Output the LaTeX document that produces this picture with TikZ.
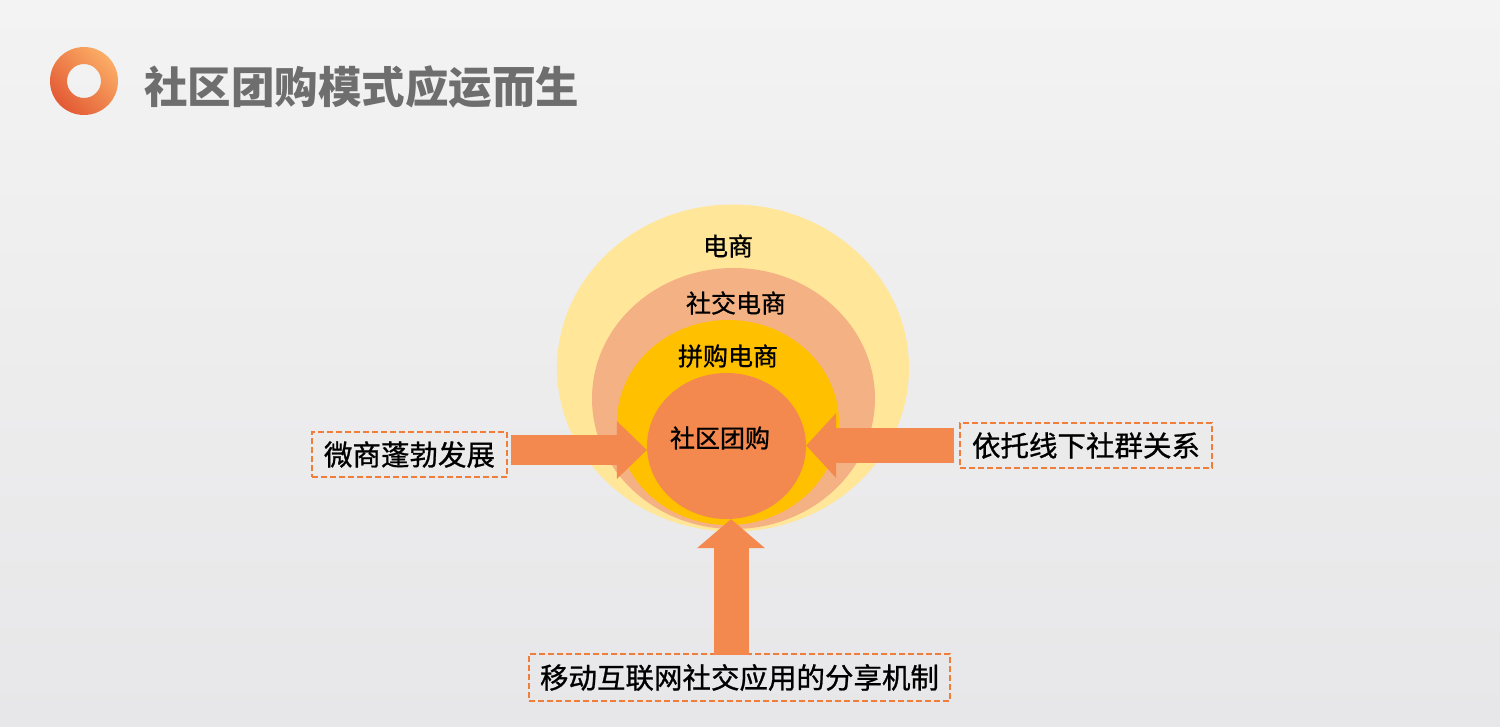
\documentclass[tikz,border=0pt]{standalone}
\usepackage{fontspec}
\setmainfont{Noto Sans CJK SC}
\newfontfamily\medcjk[FakeBold=0.9]{Noto Sans CJK SC}
\usetikzlibrary{arrows.meta,shapes.geometric}
\definecolor{bgtop}{HTML}{F3F3F3}
\definecolor{bgbot}{HTML}{E7E6E8}
\definecolor{ringa}{HTML}{FFE699}
\definecolor{ringb}{HTML}{F4B183}
\definecolor{ringc}{HTML}{FFC000}
\definecolor{ringd}{HTML}{F3894F}
\definecolor{arrowc}{HTML}{F3894F}
\definecolor{dashc}{HTML}{F07D3A}
\definecolor{titlec}{HTML}{6E6E6E}
\definecolor{logolt}{HTML}{FBAD66}
\definecolor{logodk}{HTML}{E35A34}
\begin{document}
\begin{tikzpicture}[x=1pt,y=-1pt,
  layer/.style={ellipse, inner sep=0pt, draw=none},
  lbl/.style={inner sep=0pt, font=\medcjk\fontsize{25}{30}\selectfont, text=black},
  dbox/.style={draw=dashc, line width=2pt, dash pattern=on 6pt off 3pt, inner sep=0pt, font=\medcjk\fontsize{28.5}{34}\selectfont, text=black},
  bigarrow/.style n args={3}{draw=arrowc, line width=#1, -{Triangle[width=#2,length=#3,line width=0pt]}}
]
\useasboundingbox (0,0) rectangle (1500,727);
\shade[top color=bgtop, bottom color=bgbot] (0,0) rectangle (1500,727);
% logo
\node[circle, minimum size=68pt, inner sep=0pt] (logo) at (84,81) {};
\shade[even odd rule, top color=logolt, bottom color=logodk, shading angle=-45] (logo.center) circle (34) (logo.center) circle (17);
% title
\node[anchor=west, inner sep=0pt, font=\fontsize{43.5}{50}\selectfont\bfseries, text=titlec] (title) at (144,87) {社区团购模式应运而生};
% nested ellipses
\node[layer, fill=ringa, minimum width=352pt, minimum height=327pt] (outer) at (733,368) {};
\node[layer, fill=ringb, minimum width=283pt, minimum height=261pt] (second) at (733.5,398.5) {};
\node[layer, fill=ringc, minimum width=222pt, minimum height=205pt] (third) at (728,422.5) {};
\node[layer, fill=ringd, minimum width=159pt, minimum height=146pt] (inner) at (726.5,446) {};
% boxes
\node[dbox, minimum width=195pt, minimum height=45pt] (lbox) at (409.5,454.5) {微商蓬勃发展};
\node[dbox, minimum width=252pt, minimum height=45pt] (rbox) at (1086,445.5) {依托线下社群关系};
\node[dbox, minimum width=421pt, minimum height=47pt] (bbox) at (739.5,677.5) {移动互联网社交应用的分享机制};
% arrows
\coordinate (ls) at ([xshift=3pt,yshift=4.5pt]lbox.east);
\draw[bigarrow={30pt}{58pt}{30pt}] (ls) -- (ls -| inner.west);
\coordinate (rs) at ([xshift=-5pt]rbox.west);
\draw[bigarrow={35pt}{65pt}{30pt}] (rs) -- (rs -| inner.east);
\coordinate (bs) at ([xshift=-8.5pt,yshift=-2pt]bbox.north);
\draw[bigarrow={35pt}{68pt}{29pt}] (bs) -- (bs |- inner.south);
% labels
\node[lbl] (t1) at (728,246) {电商};
\node[lbl] (t2) at (736,303) {社交电商};
\node[lbl] (t3) at (728,356) {拼购电商};
\node[lbl] (t4) at (720,438) {社区团购};
\end{tikzpicture}
\end{document}
